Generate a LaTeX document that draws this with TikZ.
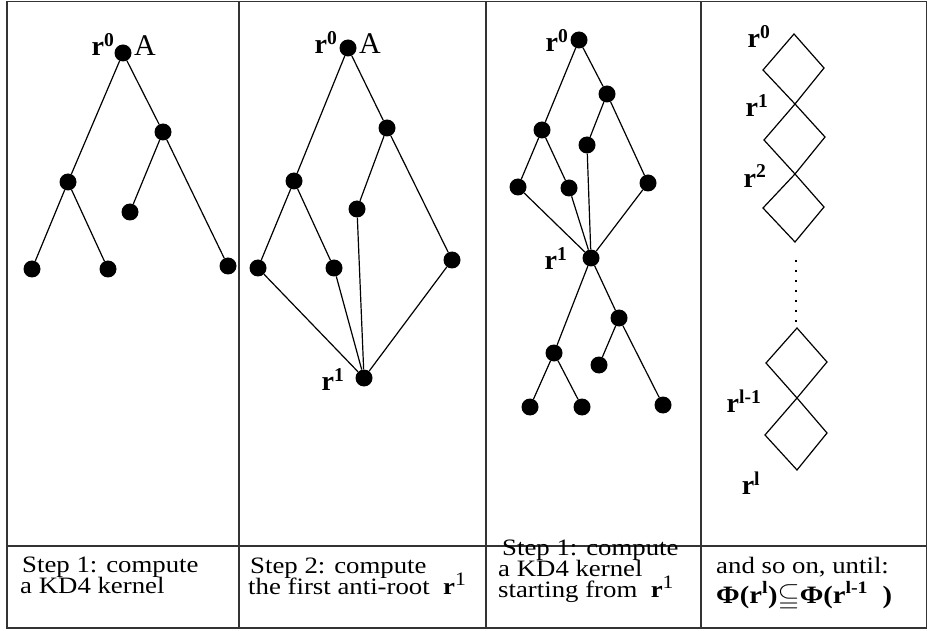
\documentclass[tikz,border=0pt]{standalone}
\usepackage{fontspec}
\usepackage{amssymb}
\setmainfont{Liberation Serif}
\newcommand{\rlab}[1]{\textbf{r}\textsuperscript{\textbf{#1}}}
\newcommand{\rone}{\textbf{r}\raisebox{9pt}{\fontsize{19}{19}\selectfont 1}}
\begin{document}
\begin{tikzpicture}[x=1pt,y=-1pt,
  dot/.style={circle,fill=black,inner sep=0pt,minimum size=17pt},
  edge/.style={line width=1.2pt},
  frame/.style={line width=1.3pt,draw=black!80},
  lbl/.style={inner sep=0pt,font=\fontsize{28}{28}\selectfont},
  albl/.style={inner sep=0pt,font=\fontsize{30}{30}\selectfont},
  txt/.style={inner sep=0pt,anchor=base west,font=\fontsize{23.5}{21}\selectfont,xscale=1.14}]
\useasboundingbox (0,0) rectangle (927,631);
% frame
\draw[frame] (7,1.5) rectangle (926.5,628);
\draw[frame] (7,546) -- (926.5,546);
\draw[frame] (239,1.5) -- (239,628);
\draw[frame] (486,1.5) -- (486,628);
\draw[frame] (701,1.5) -- (701,628);

% column 1
\node[dot] (a0) at (123,53) {};
\node[dot] (a1) at (163,132) {};
\node[dot] (a2) at (68,182) {};
\node[dot] (a3) at (130,212) {};
\node[dot] (a4) at (32,269) {};
\node[dot] (a5) at (108,269) {};
\node[dot] (a6) at (228,266) {};
\draw[edge] (a0)--(a1) (a0)--(a2) (a1)--(a3) (a1)--(a6) (a2)--(a4) (a2)--(a5);
\node[lbl] (la0) at (103,44) {\rlab{0}};
\node[albl] (lA1) at (145,46) {A};

% column 2
\node[dot] (b0) at (348,48) {};
\node[dot] (b1) at (387,128) {};
\node[dot] (b2) at (294,181) {};
\node[dot] (b3) at (357,209) {};
\node[dot] (b4) at (258,268) {};
\node[dot] (b5) at (334,268) {};
\node[dot] (b6) at (452,260) {};
\node[dot] (b7) at (364,378) {};
\draw[edge] (b0)--(b1) (b0)--(b2) (b2)--(b4) (b2)--(b5) (b1)--(b3) (b1)--(b6)
  (b4)--(b7) (b5)--(b7) (b3)--(b7) (b6)--(b7);
\node[lbl] (lb0) at (326,42) {\rlab{0}};
\node[albl] (lA2) at (370,44) {A};
\node[lbl] (lb1) at (333,380) {\rlab{1}};

% column 3
\node[dot] (c0) at (579,40) {};
\node[dot] (c1) at (607,94) {};
\node[dot] (c2) at (542,130) {};
\node[dot] (c3) at (587,145) {};
\node[dot] (c4) at (518,187) {};
\node[dot] (c5) at (569,188) {};
\node[dot] (c6) at (648,183) {};
\node[dot] (c7) at (591,258) {};
\node[dot] (d1) at (619,318) {};
\node[dot] (d2) at (554,353) {};
\node[dot] (d3) at (599,365) {};
\node[dot] (d4) at (530,407) {};
\node[dot] (d5) at (582,407) {};
\node[dot] (d6) at (663,405) {};
\draw[edge] (c0)--(c1) (c0)--(c2) (c2)--(c4) (c2)--(c5) (c1)--(c3) (c1)--(c6)
  (c4)--(c7) (c5)--(c7) (c3)--(c7) (c6)--(c7)
  (c7)--(d1) (c7)--(d2) (d2)--(d4) (d2)--(d5) (d1)--(d3) (d1)--(d6);
\node[lbl] (lc0) at (557,40) {\rlab{0}};
\node[lbl] (lc1) at (556,259) {\rlab{1}};

% column 4
\draw[edge] (794,34) -- (824,68) -- (795,104) -- (763,70) -- cycle;
\draw[edge] (795,104) -- (825,137) -- (795,174) -- (764,140) -- cycle;
\draw[edge] (795,174) -- (824,207) -- (795,242) -- (763,208) -- cycle;
\draw[line width=1.2pt,dash pattern=on 2pt off 8pt] (796,260) -- (796,324);
\draw[edge] (797,328) -- (827,362) -- (797,398) -- (766,363) -- cycle;
\draw[edge] (797,398) -- (827,433) -- (797,470) -- (765,435) -- cycle;
\node[lbl] (ld0) at (759,36) {\rlab{0}};
\node[lbl] (ld1) at (757,106) {\rlab{1}};
\node[lbl] (ld2) at (755,176) {\rlab{2}};
\node[lbl] (ld3) at (744,401) {\rlab{l-1}};
\node[lbl] (ld4) at (751,483) {\rlab{l}};

% bottom texts
\node[txt] (t11) at (22,572) {Step 1: compute};
\node[txt] (t12) at (20,593) {a KD4 kernel};
\node[txt] (t21) at (250,573) {Step 2: compute};
\node[txt] (t22) at (248,594) {the first anti-root\enspace\rone};
\node[txt] (t31) at (502,555) {Step 1: compute};
\node[txt] (t32) at (498,576) {a KD4 kernel};
\node[txt] (t33) at (498,597) {starting from\enspace\rone};
\node[txt] (t41) at (716,573) {and so on, until:};
\node[txt,font=\fontsize{25}{25}\selectfont] (t42) at (716,603) {\textbf{Φ(r\textsuperscript{l})}$\subseteqq$\textbf{Φ(r\textsuperscript{l-1}\enspace)}};
\end{tikzpicture}
\end{document}
